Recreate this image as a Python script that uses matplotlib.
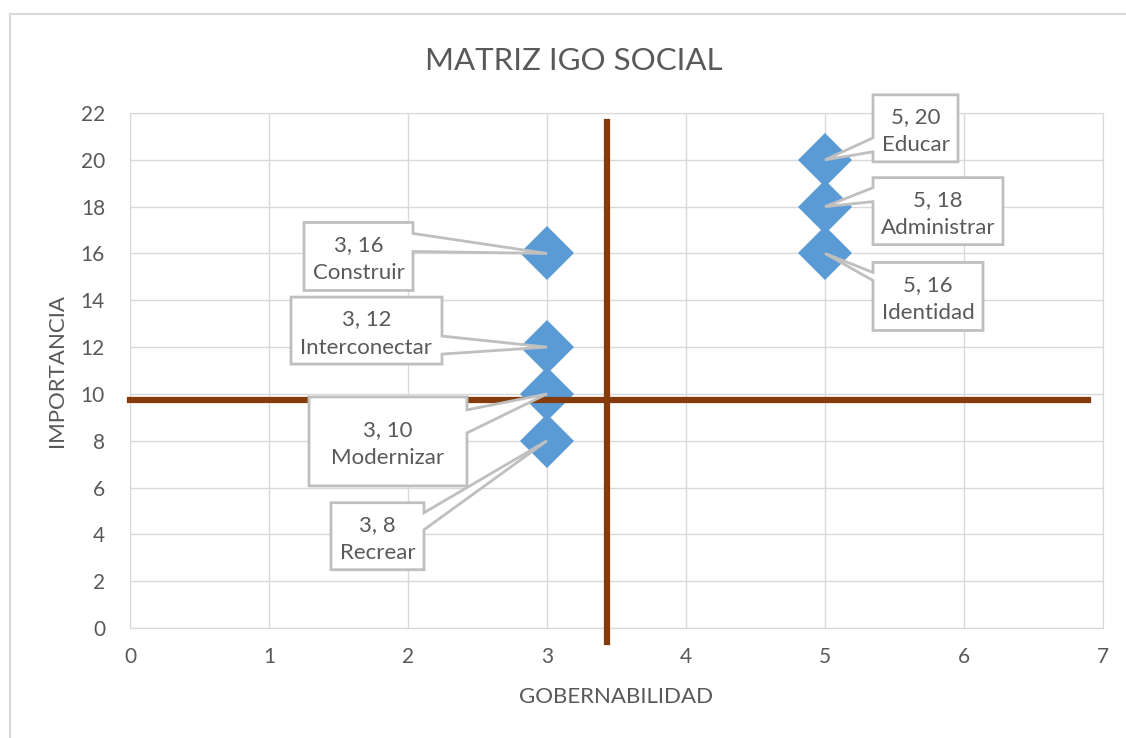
import matplotlib
matplotlib.use("Agg")
import matplotlib.pyplot as plt
from matplotlib.patches import Polygon
from matplotlib.lines import Line2D
from matplotlib.transforms import IdentityTransform

plt.rcParams['font.family'] = ['Lato', 'DejaVu Sans']

# Datos de la matriz IGO
gobernabilidad = [3, 3, 3, 3, 5, 5, 5]
importancia = [16, 12, 10, 8, 20, 18, 16]
nombres = ["Construir", "Interconectar", "Modernizar", "Recrear",
           "Educar", "Administrar", "Identidad"]

# Ejes de cuadrantes
corte_x = 3.43
corte_y = 9.74
rango_h = [0, 6.89]
rango_v = [-0.6, 21.6]

# Cajas de etiqueta en pixeles relativos al punto (izq, arriba, der, abajo, lado, base1, base2)
cajas = [
    (-243, -31, -134, 37, 'r', -20, -2),
    (-256, -50, -105, 17, 'r', -11, 7),
    (-238, 3, -80, 92, 'r', 16, 39),
    (-216, 62, -123, 129, 'r', 72, 89),
    (48, -65, 133, 2, 'l', -22, -8),
    (48, -29, 178, 38, 'l', -19, -5),
    (48, 9, 158, 77, 'l', 19, 27),
]

gris = '#595959'
W, H = 1126, 738
fig = plt.figure(figsize=(W / 100, H / 100), dpi=100)
ax = fig.add_axes([130 / W, 1 - 628 / H, (1103 - 130) / W, (628 - 113) / H])

ax.set_xlim(0, 7)
ax.set_ylim(0, 22)
ax.set_xticks(range(0, 8))
ax.set_yticks(range(0, 23, 2))
ax.grid(True, color='#D9D9D9', linewidth=1)
ax.set_axisbelow(True)
for s in ax.spines.values():
    s.set_color('#D9D9D9')
ax.tick_params(length=0, labelsize=15, labelcolor=gris)
ax.tick_params(axis='x', pad=14)
ax.tick_params(axis='y', pad=18)

ax.plot(gobernabilidad, importancia, 'D', color='#5B9BD5', ms=28, mew=0,
        zorder=3, clip_on=False)

# Llamadas con caja y cuña
for x, y, nombre, (l, t, r, b, lado, b1, b2) in zip(gobernabilidad, importancia, nombres, cajas):
    px, py = ax.transData.transform((x, y))
    if lado == 'r':
        pts = [(l, t), (r, t), (r, b1), (0, 0), (r, b2), (r, b), (l, b)]
    else:
        pts = [(l, t), (r, t), (r, b), (l, b), (l, b2), (0, 0), (l, b1)]
    verts = [(px + dx, py - dy) for dx, dy in pts]
    fig.patches.append(Polygon(verts, closed=True, facecolor='white', edgecolor='#BFBFBF',
                               linewidth=2, transform=IdentityTransform(), figure=fig, zorder=4))
    fig.text((px + (l + r) / 2) / W, (py - (t + b) / 2 - 3) / H, f"{x}, {y}\n{nombre}",
             ha='center', va='center', fontsize=16, color=gris, linespacing=1.5, zorder=5)

ax.plot(rango_h, [corte_y, corte_y], color='#843C0C', lw=4.5, clip_on=False, zorder=6)
ax.plot([corte_x, corte_x], rango_v, color='#843C0C', lw=4.5, clip_on=False, zorder=6)

ax.set_xlabel("GOBERNABILIDAD", fontsize=16, color=gris, labelpad=14)
ax.set_ylabel("IMPORTANCIA", fontsize=16, color=gris, labelpad=10)
fig.text(574 / W, 1 - 61 / H, "MATRIZ IGO SOCIAL", ha='center', va='center',
         fontsize=22.5, color=gris)

# Borde del área del gráfico
fig.add_artist(Line2D([10 / W, 1], [1 - 14 / H, 1 - 14 / H], color='#D9D9D9', lw=1.5))
fig.add_artist(Line2D([10 / W, 10 / W], [0, 1 - 14 / H], color='#D9D9D9', lw=1.5))

fig.savefig("out.png", dpi=100)
